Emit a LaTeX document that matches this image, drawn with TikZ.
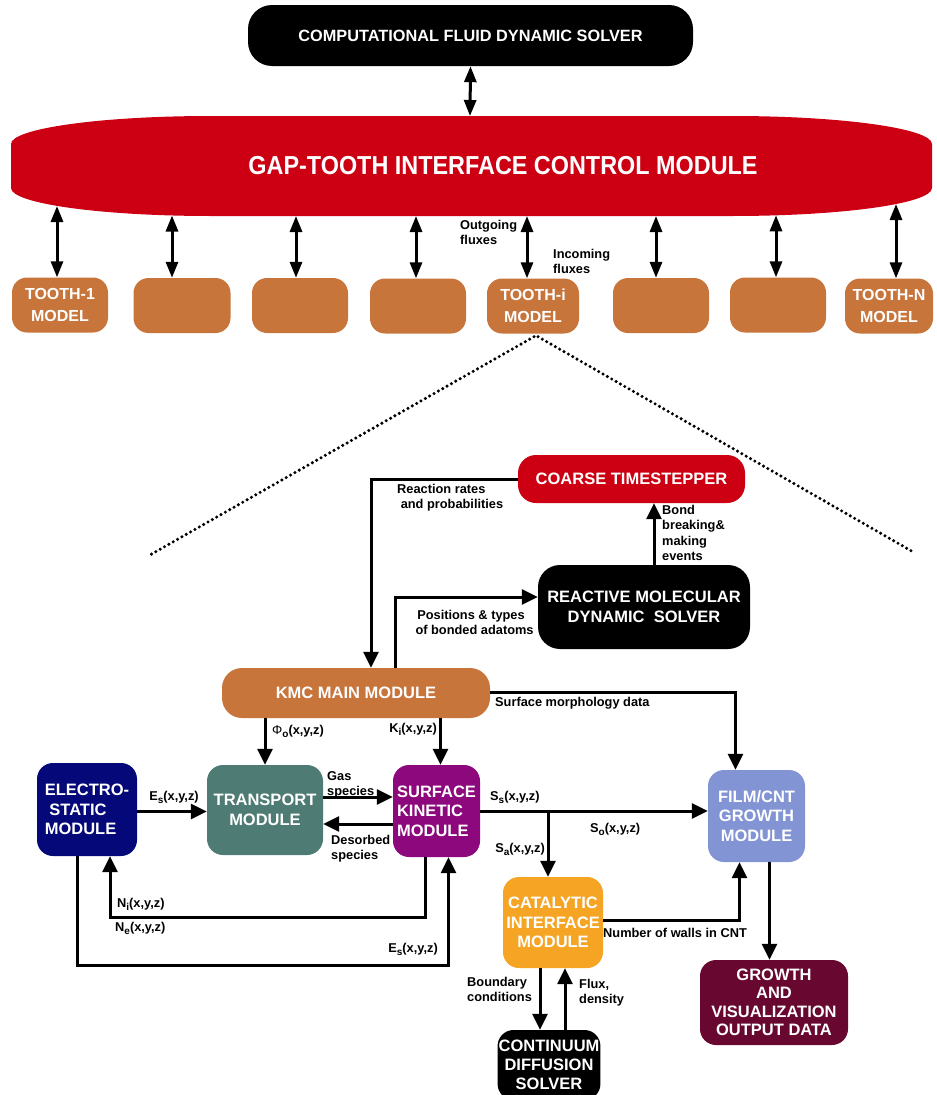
\documentclass[tikz,border=0pt]{standalone}
\usepackage{fontspec}
\setmainfont{Liberation Sans}
\newfontfamily\narrowsans[FakeStretch=0.9]{Liberation Sans}
\usetikzlibrary{arrows.meta,calc}
\definecolor{gapred}{RGB}{204,0,18}
\definecolor{toothbrown}{RGB}{200,117,60}
\definecolor{esnavy}{RGB}{5,8,120}
\definecolor{transpteal}{RGB}{78,124,116}
\definecolor{surfpurple}{RGB}{140,8,124}
\definecolor{filmblue}{RGB}{130,148,212}
\definecolor{catorange}{RGB}{245,165,35}
\definecolor{growthmaroon}{RGB}{104,8,48}
\newcommand{\lsub}[1]{\raisebox{-0.45ex}{\fontsize{10}{10}\selectfont #1}}
\begin{document}
\begin{tikzpicture}[x=1pt,y=-1pt,
  box/.style={rounded corners=16pt, text=white, font=\bfseries\fontsize{16.5}{19.5}\selectfont, align=center, inner sep=1pt},
  toothbox/.style={box, fill=toothbrown, minimum height=55pt, rounded corners=15pt, font=\bfseries\fontsize{16}{22}\selectfont},
  arr/.style={line width=3pt, -{Triangle[length=16pt,width=15pt]}},
  dbl/.style={line width=3pt, {Triangle[length=16pt,width=12pt]}-{Triangle[length=16pt,width=12pt]}},
  lbl/.style={font=\bfseries\fontsize{12.8}{15.5}\selectfont, align=left, inner sep=0pt},
  dots/.style={line width=3.4pt, line cap=round, dash pattern=on 0pt off 5pt}]
\useasboundingbox (0,0) rectangle (937,1095);

% ---------- top part ----------
\node[box, fill=black, rounded corners=24pt, minimum width=445pt, minimum height=61pt, font=\bfseries\fontsize{16.3}{19}\selectfont] (cfd) at (470.5,35.5) {COMPUTATIONAL FLUID DYNAMIC SOLVER};
\fill[gapred] (11,144) .. controls (11,128.5) and (100.5,116) .. (211,116) -- (732,116)
  .. controls (842.5,116) and (932,128.5) .. (932,144) -- (932,188)
  .. controls (932,203.5) and (842.5,216) .. (732,216) -- (211,216)
  .. controls (100.5,216) and (11,203.5) .. (11,188) -- cycle;
\node[text=white, font=\narrowsans\bfseries\fontsize{26}{30}\selectfont, inner sep=0pt] (gap) at (503,166) {GAP-TOOTH INTERFACE CONTROL MODULE};
\coordinate (cg) at (470,116);
\draw[dbl] (cfd.south) -- (cg);

\node[toothbox, minimum width=96pt] (t1) at (60,305) {TOOTH-1\\MODEL};
\node[toothbox, minimum width=97pt] (t2) at (182,305.5) {};
\node[toothbox, minimum width=96pt] (t3) at (300,305.5) {};
\node[toothbox, minimum width=96pt] (t4) at (418,306) {};
\node[toothbox, minimum width=92pt] (ti) at (533,306) {TOOTH-i\\MODEL};
\node[toothbox, minimum width=96pt] (t6) at (661,305.5) {};
\node[toothbox, minimum width=96pt] (t7) at (778,305) {};
\node[toothbox, minimum width=88pt] (tN) at (889,306) {TOOTH-N\\MODEL};

\coordinate (g1) at (57,206);
\coordinate (g2) at (172,215.5);
\coordinate (g3) at (296,216);
\coordinate (g4) at (416,216);
\coordinate (gi) at (527,216);
\coordinate (g6) at (656,216);
\coordinate (g7) at (776,215.3);
\coordinate (gN) at (896,204);
\draw[dbl] (g1) -- (g1 |- t1.north);
\draw[dbl] (g2) -- (g2 |- t2.north);
\draw[dbl] (g3) -- (g3 |- t3.north);
\draw[dbl] (g4) -- (g4 |- t4.north);
\draw[dbl] (gi) -- (gi |- ti.north);
\draw[dbl] (g6) -- (g6 |- t6.north);
\draw[dbl] (g7) -- (g7 |- t7.north);
\draw[dbl] (gN) -- (gN |- tN.north);
\node[lbl, anchor=north west] (outl) at (460,220) {Outgoing\\fluxes};
\node[lbl, anchor=north west] (inl) at (553,249) {Incoming\\fluxes};

\coordinate (dl) at (150,555);
\coordinate (dr) at (915,553);
\draw[dots] ([xshift=1pt,yshift=-3pt]ti.south) -- (dl);
\draw[dots] ([xshift=5pt,yshift=-3pt]ti.south) -- (dr);

% ---------- lower part ----------
\node[box, fill=gapred, rounded corners=18pt, minimum width=227pt, minimum height=48pt] (coarse) at (631.5,479) {COARSE TIMESTEPPER};
\node[box, fill=black, rounded corners=22pt, minimum width=212pt, minimum height=84pt] (rmd) at (644,607) {REACTIVE MOLECULAR\\DYNAMIC\ \ SOLVER};
\node[box, fill=toothbrown, rounded corners=20pt, minimum width=268pt, minimum height=50pt] (kmc) at (356,693) {KMC MAIN MODULE};

\node[box, fill=esnavy, minimum width=100pt, minimum height=93pt, align=left] (es) at (87,809.5) {ELECTRO-\\\ STATIC\\MODULE};
\node[box, fill=transpteal, minimum width=116pt, minimum height=90pt] (tr) at (265,810) {TRANSPORT\\MODULE};
\node[box, fill=surfpurple, minimum width=87pt, minimum height=92pt, align=left] (sk) at (436.5,811) {SURFACE\\KINETIC\\MODULE};
\node[box, fill=filmblue, minimum width=97pt, minimum height=92pt] (film) at (756.5,816) {FILM/CNT\\GROWTH\\MODULE};
\node[box, fill=catorange, minimum width=100pt, minimum height=91pt] (cat) at (553,922.5) {CATALYTIC\\INTERFACE\\MODULE};
\node[box, fill=growthmaroon, minimum width=148pt, minimum height=85pt, font=\bfseries\fontsize{16.5}{18.5}\selectfont] (growth) at (774,1002.5) {GROWTH\\AND\\VISUALIZATION\\OUTPUT DATA};
\node[box, fill=black, minimum width=102pt, minimum height=70pt, font=\bfseries\fontsize{16.5}{19}\selectfont] (cont) at (549,1065) {CONTINUUM\\DIFFUSION\\SOLVER};

% connectors
\draw[arr] (coarse.west) -| ([xshift=15pt]kmc.north);
\node[lbl, anchor=north west] (rrl) at (397,484) {Reaction rates\\\ and probabilities};
\draw[arr] ([xshift=39pt]kmc.north) |- ([yshift=10pt]rmd.west);
\node[lbl, anchor=north, align=center] (posl) at (471,610) {Positions \& types\\\ \ of bonded adatoms};
\draw[arr] ([xshift=10pt]rmd.north) -- ([xshift=10pt]rmd.north |- coarse.south);
\node[lbl, anchor=north west] (bondl) at (662,505) {Bond\\breaking\&\\making\\events};

\draw[arr] ([yshift=1pt]kmc.east) -| ([xshift=-21pt]film.north);
\node[lbl, anchor=west] (sml) at (495,703) {Surface morphology data};
\draw[arr] (kmc.south -| tr.north) -- (tr.north);
\node[lbl, anchor=west] (phil) at (272,731) {{\mdseries Φ}\lsub{o}(x,y,z)};
\draw[arr] ([xshift=4pt]kmc.south -| sk.north) -- ([xshift=4pt]sk.north);
\node[lbl, anchor=east] (kil) at (437,729) {K\lsub{i}(x,y,z)};

\draw[arr] ([yshift=-2pt]es.east) -- ([yshift=-2pt]es.east -| tr.west);
\node[lbl] (esl1) at (174,797) {E\lsub{s}(x,y,z)};
\draw[arr] ([yshift=13pt]tr.east) -- ([yshift=13pt]tr.east -| sk.west);
\node[lbl, anchor=north west] (gasl) at (327,771) {Gas\\species};
\draw[arr] ([yshift=-13pt]sk.west) -- ([yshift=-13pt]sk.west -| tr.east);
\node[lbl, anchor=north west] (desl) at (331,835) {Desorbed\\species};

\draw[arr] ([xshift=-11pt]sk.south) -- ++(0,60) -| ([xshift=23pt]es.south);
\node[lbl, anchor=west] (nil) at (117,904) {N\lsub{i}(x,y,z)};
\node[lbl, anchor=west] (nel) at (115,928) {N\lsub{e}(x,y,z)};
\draw[arr] ([xshift=-10pt]es.south) -- ++(0,109) -| ([xshift=12pt]sk.south);
\node[lbl, anchor=east] (esl2) at (438,949) {E\lsub{s}(x,y,z)};

\draw[arr] (sk.east) -- (sk.east -| film.west);
\node[lbl, anchor=west] (ssl) at (490,797) {S\lsub{s}(x,y,z)};
\node[lbl, anchor=west] (sol) at (590,829) {S\lsub{o}(x,y,z)};
\draw[arr] ([xshift=-5pt]sk.east -| cat.north) -- ([xshift=-5pt]cat.north);
\node[lbl, anchor=east] (sal) at (545,849) {S\lsub{a}(x,y,z)};

\draw[arr] ([yshift=2pt]cat.east) -| ([xshift=-17pt]film.south);
\node[lbl, anchor=west] (nwl) at (603,933) {Number of walls in CNT};
\draw[arr] ([xshift=13pt]film.south) -- ([xshift=13pt]film.south |- growth.north);

\draw[arr] ([xshift=-13pt]cat.south) -- ([xshift=-13pt]cat.south |- cont.north);
\node[lbl, anchor=north west] (bcl) at (467,977) {Boundary\\conditions};
\draw[arr] ([xshift=12pt]cat.south |- cont.north) -- ([xshift=12pt]cat.south);
\node[lbl, anchor=north west] (fdl) at (579,979) {Flux,\\density};
\end{tikzpicture}
\end{document}
